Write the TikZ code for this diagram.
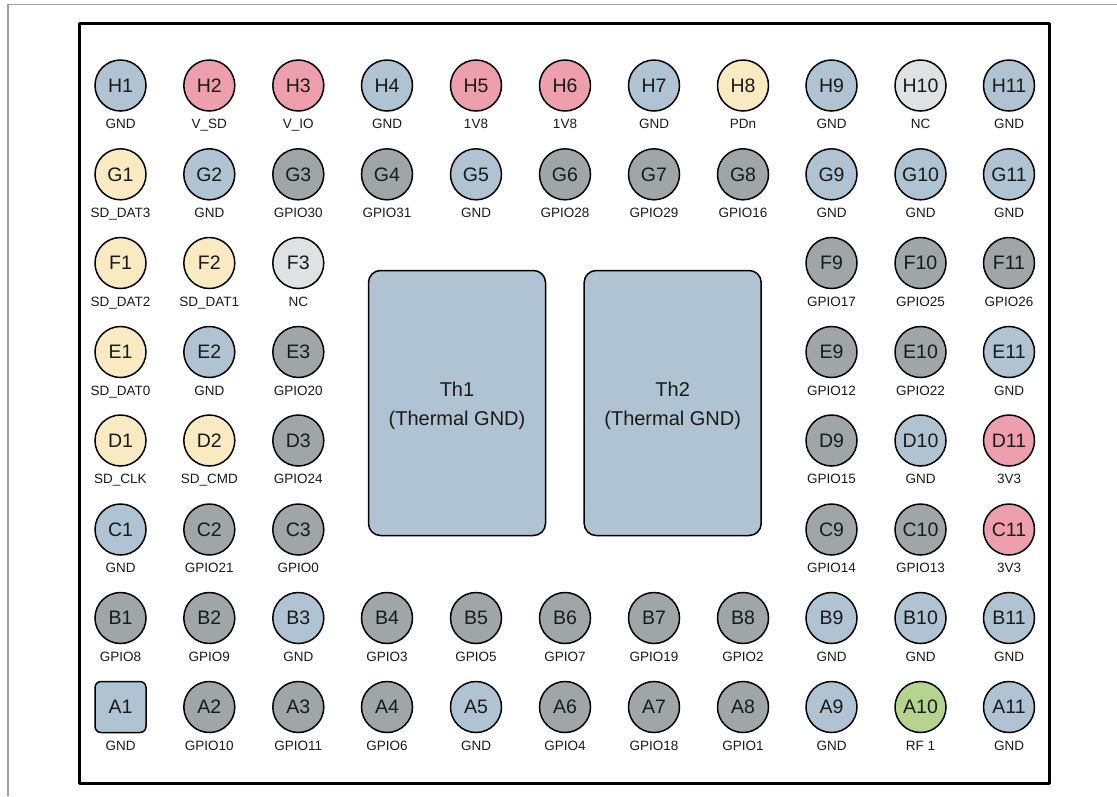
\documentclass[tikz,border=0pt]{standalone}
\usepackage{fontspec}
\setmainfont{Liberation Sans}
\definecolor{gndc}{HTML}{B0C3D2}
\definecolor{pwrc}{HTML}{EE9FAE}
\definecolor{sdc}{HTML}{FAEAC1}
\definecolor{gpioc}{HTML}{A0A6A8}
\definecolor{ncc}{HTML}{DFE2E3}
\definecolor{rfc}{HTML}{B5D58F}
\definecolor{framec}{HTML}{A0A0A0}
\definecolor{inkc}{HTML}{1A1A1A}
\tikzset{
  pinbase/.style={draw=black,line width=1.5pt,minimum size=51pt,inner sep=0pt,text=inkc,font=\fontsize{19.5}{20}\selectfont},
  pincirc/.style={pinbase,circle},
  pinsq/.style={pinbase,rectangle,rounded corners=6pt},
  pinlab/.style={inner sep=0pt,anchor=base,text=inkc,font=\fontsize{13.5}{14}\selectfont},
  thpad/.style={draw=black,line width=1.5pt,fill=gndc,rounded corners=12pt,minimum width=177pt,minimum height=265pt,inner sep=0pt,text=inkc,align=center,font=\fontsize{20}{29}\selectfont}
}
\begin{document}
\begin{tikzpicture}[x=1pt,y=-1pt]
\useasboundingbox (0,0) rectangle (1117,796);
\fill[white] (0,0) rectangle (1117,796);
\draw[framec,line width=1.7pt] (8,796) -- (8,4.5) -- (1117,4.5);
\draw[black,line width=3pt,line join=round] (79.5,23) rectangle (1049,783);
\foreach \nm/\cx/\cy/\col/\lab in {
H1/120.5/85.5/gndc/GND,H2/209.3/85.5/pwrc/V\_SD,H3/298.3/85.5/pwrc/V\_IO,H4/387/85.5/gndc/GND,H5/476/85.5/pwrc/1V8,H6/565/85.5/pwrc/1V8,H7/654/85.5/gndc/GND,H8/743/85.5/sdc/PDn,H9/831.5/85.5/gndc/GND,H10/920.5/85.5/ncc/NC,H11/1009/85.5/gndc/GND,
G1/120.5/174.3/sdc/SD\_DAT3,G2/209.3/174.3/gndc/GND,G3/298.3/174.3/gpioc/GPIO30,G4/387/174.3/gpioc/GPIO31,G5/476/174.3/gndc/GND,G6/565/174.3/gpioc/GPIO28,G7/654/174.3/gpioc/GPIO29,G8/743/174.3/gpioc/GPIO16,G9/831.5/174.3/gndc/GND,G10/920.5/174.3/gndc/GND,G11/1009/174.3/gndc/GND,
F1/120.5/263/sdc/SD\_DAT2,F2/209.3/263/sdc/SD\_DAT1,F3/298.3/263/ncc/NC,F9/831.5/263/gpioc/GPIO17,F10/920.5/263/gpioc/GPIO25,F11/1009/263/gpioc/GPIO26,
E1/120.5/352/sdc/SD\_DAT0,E2/209.3/352/gndc/GND,E3/298.3/352/gpioc/GPIO20,E9/831.5/352/gpioc/GPIO12,E10/920.5/352/gpioc/GPIO22,E11/1009/352/gndc/GND,
D1/120.5/440.5/sdc/SD\_CLK,D2/209.3/440.5/sdc/SD\_CMD,D3/298.3/440.5/gpioc/GPIO24,D9/831.5/440.5/gpioc/GPIO15,D10/920.5/440.5/gndc/GND,D11/1009/440.5/pwrc/3V3,
C1/120.5/529.5/gndc/GND,C2/209.3/529.5/gpioc/GPIO21,C3/298.3/529.5/gpioc/GPIO0,C9/831.5/529.5/gpioc/GPIO14,C10/920.5/529.5/gpioc/GPIO13,C11/1009/529.5/pwrc/3V3,
B1/120.5/618/gpioc/GPIO8,B2/209.3/618/gpioc/GPIO9,B3/298.3/618/gndc/GND,B4/387/618/gpioc/GPIO3,B5/476/618/gpioc/GPIO5,B6/565/618/gpioc/GPIO7,B7/654/618/gpioc/GPIO19,B8/743/618/gpioc/GPIO2,B9/831.5/618/gndc/GND,B10/920.5/618/gndc/GND,B11/1009/618/gndc/GND,
A2/209.3/707/gpioc/GPIO10,A3/298.3/707/gpioc/GPIO11,A4/387/707/gpioc/GPIO6,A5/476/707/gndc/GND,A6/565/707/gpioc/GPIO4,A7/654/707/gpioc/GPIO18,A8/743/707/gpioc/GPIO1,A9/831.5/707/gndc/GND,A10/920.5/707/rfc/RF 1,A11/1009/707/gndc/GND}
{
  \node[pincirc,fill=\col] (pin\nm) at (\cx,\cy) {\nm};
  \node[pinlab] (lab\nm) at (\cx,\cy+43) {\lab};
}
\node[pinsq,fill=gndc] (pinA1) at (120.5,707) {A1};
\node[pinlab] (labA1) at (120.5,750) {GND};
\node[thpad] (th1) at (457,403) {\rule{0pt}{20pt}Th1\\(Thermal GND)};
\node[thpad] (th2) at (672.7,403) {\rule{0pt}{20pt}Th2\\(Thermal GND)};
\end{tikzpicture}
\end{document}
